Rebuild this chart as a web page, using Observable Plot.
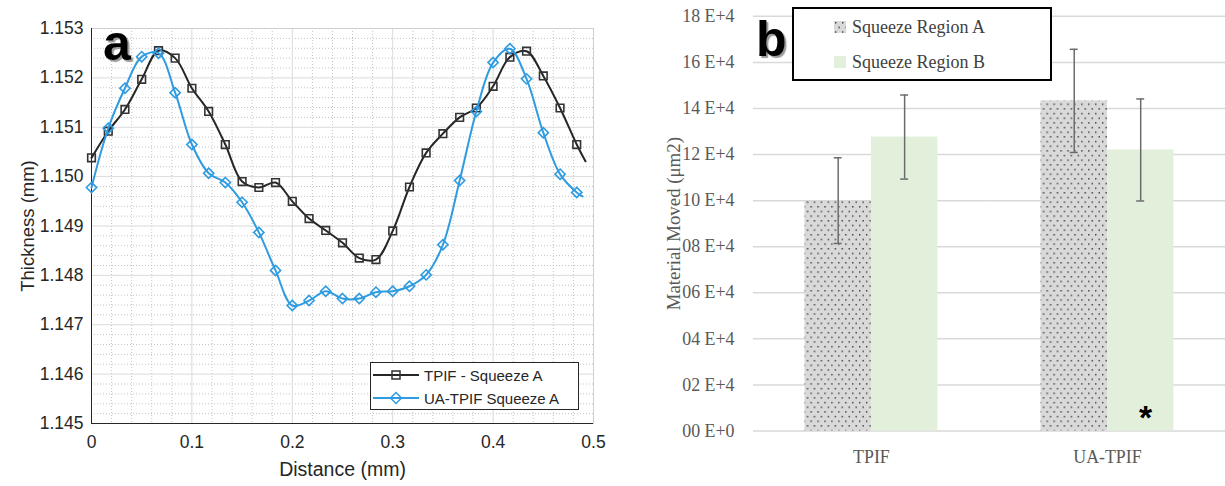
<!DOCTYPE html>
<html><head><meta charset="utf-8">
<script src="https://cdn.jsdelivr.net/npm/d3@7"></script>
<script src="https://cdn.jsdelivr.net/npm/@observablehq/plot@0.6"></script>
<style>
body{margin:0;background:#fff;}
#wrap{position:relative;width:1225px;height:486px;overflow:hidden;background:#fff;}
#pa{position:absolute;left:0;top:0;}
#pb{position:absolute;left:615px;top:0;}
#pa g[aria-label="y-axis label"]{font-size:18.5px;}
#pa g[aria-label="x-axis label"]{font-size:19.5px;}
#pb g[aria-label="y-axis label"]{font-size:19px;}
.plab{position:absolute;font-family:"Liberation Sans",Arial,sans-serif;font-weight:bold;font-size:50px;line-height:1;color:#000;text-shadow:2px 2px 1px #9a9a9a;}
#lega{position:absolute;left:370px;top:362px;width:207px;height:46px;border:1px solid #262626;background:#fff;font-family:"Liberation Sans",Arial,sans-serif;font-size:15px;color:#262626;}
#lega .row{position:absolute;left:2px;height:20px;display:flex;align-items:center;}
#lega svg{margin-right:5px;}
#legb{position:absolute;left:792px;top:7px;width:256px;height:70px;border:2px solid #000;background:#fff;font-family:"Liberation Serif","Times New Roman",serif;font-size:18px;color:#404040;}
#legb .row{position:absolute;left:40px;height:22px;display:flex;align-items:center;}
#legb svg{margin-right:6px;}
</style></head><body>
<div id="wrap">
  <div id="pa"></div>
  <div id="pb"></div>
  <div class="plab" style="left:103px;top:18px;">a</div>
  <div class="plab" style="left:756px;top:14px;">b</div>
  <div id="lega">
    <div class="row" style="top:2px;"><svg width="46" height="12"><line x1="0" y1="6" x2="46" y2="6" stroke="#262626" stroke-width="2"/><rect x="19" y="2" width="8" height="8" fill="none" stroke="#333" stroke-width="1.5"/></svg><span>TPIF - Squeeze A</span></div>
    <div class="row" style="top:25px;"><svg width="46" height="14"><line x1="0" y1="7" x2="46" y2="7" stroke="#2f9be0" stroke-width="2"/><path d="M23,1.5L28.5,7L23,12.5L17.5,7Z" fill="none" stroke="#2f9be0" stroke-width="1.5"/></svg><span>UA-TPIF Squeeze A</span></div>
  </div>
  <div id="legb">
    <div class="row" style="top:7px;"><svg width="12" height="12"><rect width="12" height="12" fill="url(#dots)"/></svg><span>Squeeze Region A</span></div>
    <div class="row" style="top:42px;"><svg width="12" height="12"><rect width="12" height="12" fill="#e2efda"/></svg><span>Squeeze Region B</span></div>
  </div>
</div>
<script>
// ---------- Panel a data ----------
const distance = [0, 0.0167, 0.0333, 0.05, 0.0667, 0.0833, 0.1, 0.1167, 0.1333, 0.15, 0.1667, 0.1833, 0.2, 0.2167, 0.2333, 0.25, 0.2667, 0.2833, 0.3, 0.3167, 0.3333, 0.35, 0.3667, 0.3833, 0.4, 0.4167, 0.4333, 0.45, 0.4667, 0.4833];
const tpifA = [1.15038, 1.15092, 1.15136, 1.15197, 1.15255, 1.1524, 1.15179, 1.15132, 1.15065, 1.1499, 1.14978, 1.14988, 1.1495, 1.14915, 1.14891, 1.14866, 1.14835, 1.14832, 1.1489, 1.14979, 1.15048, 1.15087, 1.1512, 1.15139, 1.15183, 1.15242, 1.15254, 1.15204, 1.15139, 1.15065];
const uaTpifA = [1.14978, 1.15098, 1.15179, 1.15243, 1.1525, 1.1517, 1.15065, 1.15007, 1.14988, 1.14948, 1.14887, 1.1481, 1.14739, 1.14749, 1.14768, 1.14753, 1.14753, 1.14766, 1.14768, 1.14778, 1.14801, 1.14862, 1.14992, 1.15132, 1.15231, 1.15259, 1.15198, 1.15089, 1.15005, 1.14968];
const tpifEnd = {d: 0.492, v: 1.15031};
const uaEnd = {d: 0.489, v: 1.1496};
const xTicksA = [0, 0.1, 0.2, 0.3, 0.4, 0.5];
const yTicksA = [1.145, 1.146, 1.147, 1.148, 1.149, 1.150, 1.151, 1.152, 1.153];

// ---------- Panel b data ----------
const categories = ["TPIF", "UA-TPIF"];
const regions = ["Squeeze Region A", "Squeeze Region B"];
const regionAValues = [100000, 143300];
const regionBValues = [127600, 122000];
const regionAErr = [18600, 22400];
const regionBErr = [18250, 22150];
const yTicksB = [0, 20000, 40000, 60000, 80000, 100000, 120000, 140000, 160000, 180000];
const yTickLabelsB = ["00 E+0", "02 E+4", "04 E+4", "06 E+4", "08 E+4", "10 E+4", "12 E+4", "14 E+4", "16 E+4", "18 E+4"];

// ---------- Panel a ----------
const tpifPts = distance.map((d, i) => ({d, v: tpifA[i]}));
const uaPts = distance.map((d, i) => ({d, v: uaTpifA[i]}));
const tpifLine = tpifPts.concat([tpifEnd]);
const uaLine = uaPts.concat([uaEnd]);
const minorX = d3.range(0, 0.5001, 0.02).filter(v => Math.abs(v * 10 - Math.round(v * 10)) > 1e-6);
const minorY = d3.range(1.145, 1.15301, 0.0002).filter(v => Math.abs(v * 1000 - Math.round(v * 1000)) > 1e-6);

const pa = Plot.plot({
  width: 610, height: 486,
  marginLeft: 91, marginRight: 17, marginTop: 28, marginBottom: 63,
  style: {fontFamily: "'Liberation Sans', Arial, sans-serif", fontSize: "17.5px", color: "#262626", background: "transparent"},
  x: {domain: [0, 0.5]},
  y: {domain: [1.145, 1.153]},
  marks: [
    Plot.gridX(minorX, {stroke: "#c4c4c4", strokeOpacity: 1, strokeDasharray: "1,2"}),
    Plot.gridY(minorY, {stroke: "#c4c4c4", strokeOpacity: 1, strokeDasharray: "1,2"}),
    Plot.gridX(xTicksA, {stroke: "#dadada", strokeOpacity: 1}),
    Plot.gridY(yTicksA, {stroke: "#dadada", strokeOpacity: 1}),
    Plot.frame({stroke: "#cfcfcf"}),
    Plot.ruleX([0], {stroke: "#262626"}),
    Plot.ruleY([1.145], {stroke: "#262626"}),
    Plot.axisX(xTicksA, {tickSize: 0, tickPadding: 12, tickFormat: d => String(d), label: "Distance (mm)", labelAnchor: "center", labelArrow: "none", labelOffset: 52}),
    Plot.axisY(yTicksA, {tickSize: 0, tickPadding: 8, tickFormat: d3.format(".3f"), label: "Thickness (mm)", labelAnchor: "center", labelArrow: "none", labelOffset: 71}),
    Plot.line(tpifLine, {x: "d", y: "v", curve: "catmull-rom", stroke: "#262626", strokeWidth: 2}),
    Plot.dot(tpifPts, {x: "d", y: "v", symbol: "square", fill: "none", stroke: "#333", strokeWidth: 1.6, r: 4.3}),
    Plot.line(uaLine, {x: "d", y: "v", curve: "catmull-rom", stroke: "#2f9be0", strokeWidth: 2}),
    Plot.dot(uaPts, {x: "d", y: "v", symbol: "diamond2", fill: "none", stroke: "#2f9be0", strokeWidth: 1.6, r: 4.6})
  ]
});
document.getElementById("pa").appendChild(pa);

// ---------- Panel b ----------
const bars = [];
categories.forEach((c, i) => {
  bars.push({cat: c, region: regions[0], value: regionAValues[i], err: regionAErr[i]});
  bars.push({cat: c, region: regions[1], value: regionBValues[i], err: regionBErr[i]});
});
const star = [{cat: "UA-TPIF", region: regions[1], y: 5500}];

const pb = Plot.plot({
  width: 615, height: 486,
  marginLeft: 139, marginRight: 0, marginTop: 16, marginBottom: 52,
  style: {fontFamily: "'Liberation Serif', 'Times New Roman', serif", fontSize: "18px", color: "#595959", background: "transparent"},
  fx: {domain: categories, padding: 0, label: null},
  x: {domain: regions, paddingInner: 0, paddingOuter: 0.776, axis: null},
  y: {domain: [0, 180000]},
  marks: [
    Plot.gridY(yTicksB, {stroke: "#d9d9d9", strokeOpacity: 1, strokeWidth: 1.5}),
    Plot.axisY(yTicksB, {tickSize: 0, tickPadding: 19, tickFormat: d => yTickLabelsB[yTicksB.indexOf(d)], label: "Material Moved (μm2)", labelAnchor: "center", labelArrow: "none", labelOffset: 87}),
    Plot.axisFx({anchor: "bottom", tickSize: 0, tickPadding: 20, label: null}),
    Plot.barY(bars.filter(d => d.region === regions[0]), {fx: "cat", x: "region", y: "value", fill: "url(#dots)"}),
    Plot.barY(bars.filter(d => d.region === regions[1]), {fx: "cat", x: "region", y: "value", fill: "#e2efda"}),
    Plot.ruleX(bars, {fx: "cat", x: "region", y1: d => d.value - d.err, y2: d => d.value + d.err, stroke: "#6b6b6b", strokeWidth: 1.5}),
    Plot.tickY(bars, {fx: "cat", x: "region", y: d => d.value - d.err, insetLeft: 29.5, insetRight: 29.5, stroke: "#6b6b6b", strokeWidth: 1.5}),
    Plot.tickY(bars, {fx: "cat", x: "region", y: d => d.value + d.err, insetLeft: 29.5, insetRight: 29.5, stroke: "#6b6b6b", strokeWidth: 1.5}),
    Plot.text(star, {fx: "cat", x: "region", y: "y", text: () => "*", fontSize: 34, fontWeight: "bold", fill: "#000", dx: 5, fontFamily: "'Liberation Sans', Arial, sans-serif"})
  ]
});
const defs = d3.select(pb).insert("defs", ":first-child");
const pat = defs.append("pattern").attr("id", "dots").attr("patternUnits", "userSpaceOnUse").attr("width", 7).attr("height", 9.4);
pat.append("rect").attr("width", 7).attr("height", 9.4).attr("fill", "#d9d9d9");
pat.append("rect").attr("x", 1).attr("y", 1).attr("width", 1.4).attr("height", 1.4).attr("fill", "#333");
pat.append("rect").attr("x", 4.5).attr("y", 5.7).attr("width", 1.4).attr("height", 1.4).attr("fill", "#333");
document.getElementById("pb").appendChild(pb);
</script>
</body></html>
